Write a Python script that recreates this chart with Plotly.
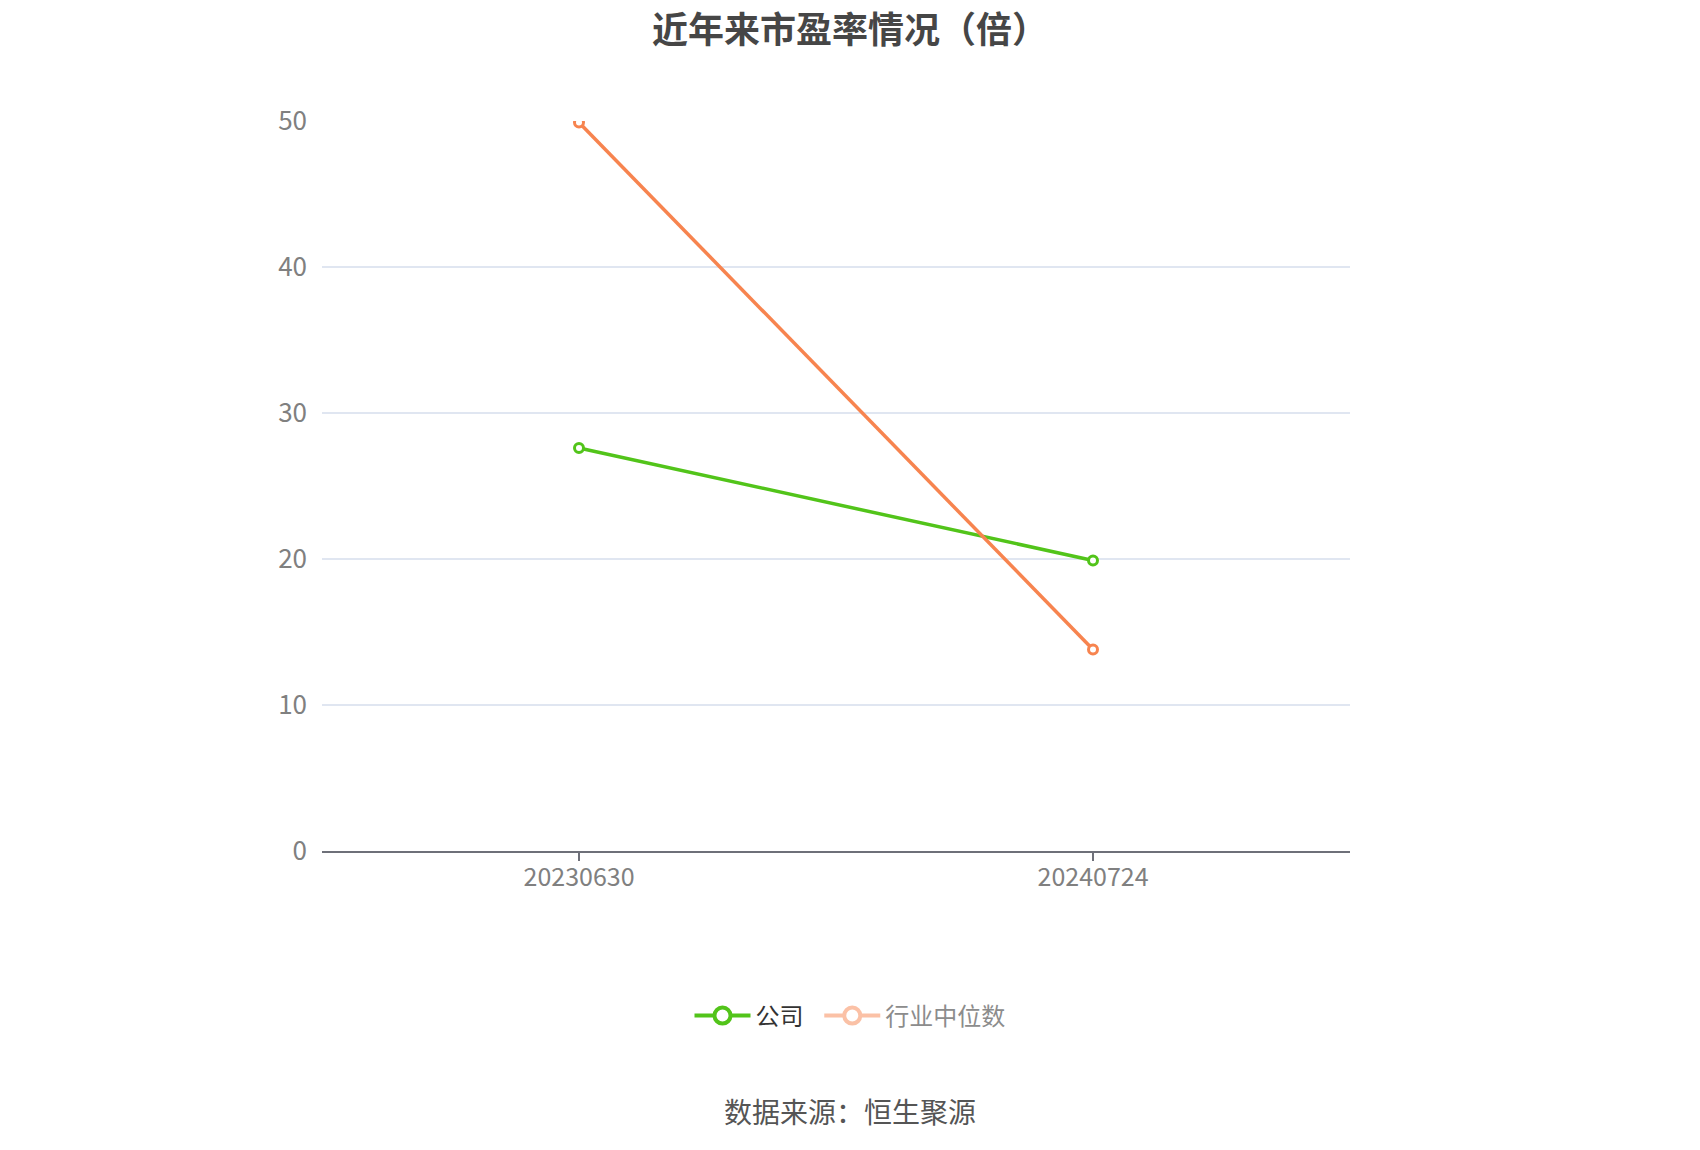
import plotly.graph_objects as go

# data
dates = ['20230630', '20240724']
company_pe = [27.6, 19.9]
industry_pe = [49.9, 13.8]

green = '#52c41a'
orange = '#f7844f'
font_family = 'Noto Sans CJK SC'

W, H = 1684, 1134   # page body keeps an 8px margin
plot_left, plot_right = 314, 1342
plot_top, plot_bottom = 113, 843
center_x = (W / 2 - plot_left) / (plot_right - plot_left)

fig = go.Figure()

fig.add_trace(go.Scatter(
    x=dates, y=company_pe, mode='lines+markers', name='公司', showlegend=False,
    line=dict(color=green, width=3.5),
    marker=dict(symbol='circle', size=9, color='white', line=dict(color=green, width=3)),
))
fig.add_trace(go.Scatter(
    x=dates, y=industry_pe, mode='lines+markers', name='行业中位数', showlegend=False,
    line=dict(color=orange, width=3.5),
    marker=dict(symbol='circle', size=9, color='white', line=dict(color=orange, width=3)),
))

# legend-only entries (second one shown faded, as in the picture);
# they sit on the overlay axis that draws the tick marks
fig.add_trace(go.Scatter(
    x=[None], y=[None], mode='lines+markers', name='公司\u00a0\u00a0', xaxis='x2',
    line=dict(color=green, width=4),
    marker=dict(symbol='circle', size=22, color='white', line=dict(color=green, width=4)),
))
fig.add_trace(go.Scatter(
    x=[None], y=[None], mode='lines+markers', xaxis='x2',
    name='<span style="color:#8c8c8c">行业中位数</span>',
    opacity=0.5,
    line=dict(color=orange, width=4),
    marker=dict(symbol='circle', size=22, color='white', line=dict(color=orange, width=4)),
))

fig.update_layout(
    width=W, height=H,
    margin=dict(l=plot_left, r=W - plot_right, t=plot_top, b=H - plot_bottom),
    paper_bgcolor='white', plot_bgcolor='white',
    font=dict(family=font_family, color='#333333'),
    title=dict(text='<b>近年来市盈率情况（倍）</b>', x=0.5, xanchor='center',
               y=1 - 22 / H, yanchor='middle',
               font=dict(size=36, color='#464646', family=font_family)),
    legend=dict(orientation='h', x=center_x, xanchor='center', y=-0.226, yanchor='middle',
                font=dict(size=24, color='#333333'), itemwidth=56, itemsizing='trace'),
    showlegend=True,
    xaxis=dict(
        type='category', range=[-0.5, 1.5],
        showline=True, linecolor='#6e7079', linewidth=2,
        ticks='', showgrid=False, zeroline=False, ticklabelstandoff=3,
        tickfont=dict(size=25, color='#808080'),
    ),
    xaxis2=dict(
        type='category', range=[-0.5, 1.5], overlaying='x', matches='x',
        categoryarray=dates, categoryorder='array',
        showline=False, showgrid=False, zeroline=False, showticklabels=False,
        ticks='outside', ticklen=9, tickcolor='#6e7079', tickwidth=2,
        tickvals=dates,
    ),
    yaxis=dict(
        range=[0, 50], dtick=10,
        showgrid=True, gridcolor='#e0e6f1', gridwidth=2,
        zeroline=False, showline=False,
        ticks='', ticklabelstandoff=14,
        tickfont=dict(size=26, color='#808080'),
    ),
)

fig.add_annotation(
    text='数据来源：恒生聚源', xref='paper', yref='paper',
    x=center_x, y=-0.356, xanchor='center', yanchor='middle',
    showarrow=False, font=dict(size=28, color='#555555', family=font_family),
)

fig.write_html('out.html')
